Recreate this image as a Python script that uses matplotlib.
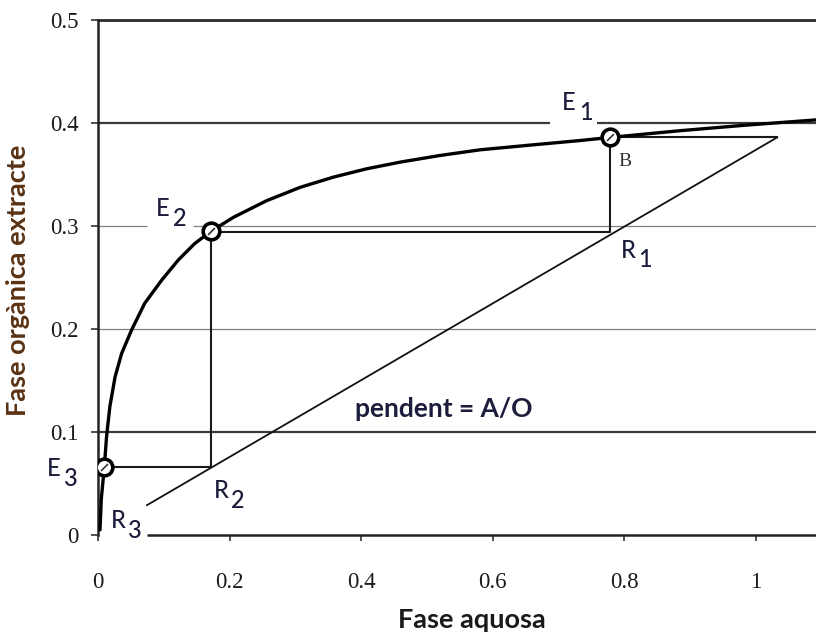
import numpy as np
import matplotlib.pyplot as plt

# equilibrium curve
curve_x = [0.003, 0.005, 0.0096, 0.013, 0.018, 0.026, 0.036, 0.051, 0.071, 0.097,
           0.122, 0.147, 0.172, 0.206, 0.256, 0.307, 0.358, 0.408, 0.459, 0.52,
           0.581, 0.656, 0.733, 0.778, 0.884, 0.986, 1.091]
curve_y = [0.005, 0.035, 0.066, 0.0955, 0.1246, 0.1537, 0.1764, 0.199, 0.225, 0.2476,
           0.267, 0.283, 0.295, 0.3085, 0.3245, 0.3375, 0.3475, 0.3555, 0.362, 0.3685,
           0.374, 0.3785, 0.383, 0.386, 0.3925, 0.398, 0.403]

# operating line (pendent = A/O)
op_x = [0.0745, 1.032]
op_y = [0.029, 0.386]

# stage construction
stair_x = [1.032, 0.778, 0.778, 0.172, 0.172, 0.0096]
stair_y = [0.386, 0.386, 0.294, 0.294, 0.066, 0.066]

e_names = ['1', '2', '3']
e_x = [0.778, 0.172, 0.0096]
e_y = [0.386, 0.295, 0.066]
r_names = ['1', '2', '3']

xticks = [0, 0.2, 0.4, 0.6, 0.8, 1.0]
xtick_labels = ['0', '0.2', '0.4', '0.6', '0.8', '1']
yticks = [0, 0.1, 0.2, 0.3, 0.4, 0.5]
ytick_labels = ['0', '0.1', '0.2', '0.3', '0.4', '0.5']

fig = plt.figure(figsize=(8.16, 6.35), dpi=100)
ax = fig.add_axes([98/816, 1 - 535/635, 1 - 98/816, 515/635])
ax.set_xlim(0, 1.091)
ax.set_ylim(0, 0.5)

# horizontal reference lines (with gaps for the labels)
ax.hlines(0.4, 0, 0.687, color='#3a3a3a', lw=1.6)
ax.hlines(0.4, 0.758, 1.091, color='#3a3a3a', lw=1.6)
ax.hlines(0.3, 0, 0.074, color='#808080', lw=0.9)
ax.hlines(0.3, 0.144, 1.091, color='#808080', lw=0.9)
ax.hlines(0.2, 0, 1.091, color='#808080', lw=0.9)
ax.hlines(0.1, 0, 1.091, color='#3a3a3a', lw=1.6)
ax.hlines(0.0, 0.0745, 1.091, color='#222222', lw=1.8, clip_on=False)

for side in ['right', 'bottom']:
    ax.spines[side].set_visible(False)
ax.spines['left'].set_linewidth(1.8)
ax.spines['left'].set_color('#222222')
ax.spines['top'].set_linewidth(2.0)
ax.spines['top'].set_color('#2a2a2a')

ax.plot(op_x, op_y, color='#111111', lw=1.3)
ax.plot(stair_x, stair_y, color='#1a1a1a', lw=1.5)
ax.plot(curve_x, curve_y, color='black', lw=2.4, solid_capstyle='round',
        solid_joinstyle='round', zorder=4)

ax.plot(e_x, e_y, 'o', ms=12, mfc='white', mec='black', mew=2.6, zorder=5)
ax.plot(e_x, e_y, marker=(2, 0, -45), ls='none', ms=7, mec='#333333', mew=1.2, zorder=6)

ax.set_xticks(xticks)
ax.set_xticklabels(xtick_labels)
ax.set_yticks(yticks)
ax.set_yticklabels(ytick_labels)
ax.tick_params(axis='x', direction='out', length=4, width=1.2, pad=23, color='#333333')
ax.tick_params(axis='y', direction='out', length=5, width=1.2, pad=9, color='#333333')
for lab in ax.get_xticklabels() + ax.get_yticklabels():
    lab.set_fontfamily('Liberation Serif')
    lab.set_fontsize(16.5)
    lab.set_color('#1a1a1a')


def sub_label(px, py, main, sub, color='#1c1c3c'):
    # main letter + lowered subscript, positions in pixels from top-left
    fig.text(px / 816, 1 - py / 635, main, family='Lato', fontsize=17,
             fontweight='medium', color=color, ha='center', va='center')
    fig.text((px + 17) / 816, 1 - (py + 10) / 635, sub, family='Lato', fontsize=17,
             fontweight='medium', color=color, ha='center', va='center')


sub_label(569, 102, 'E', e_names[0])
sub_label(163, 208, 'E', e_names[1])
sub_label(54, 469, 'E', e_names[2])
sub_label(628, 250, 'R', r_names[0])
sub_label(221, 490, 'R', r_names[1])
sub_label(118, 520, 'R', r_names[2])

fig.text(625 / 816, 1 - 161 / 635, 'B', family='Liberation Serif', fontsize=14,
         color='#333333', ha='center', va='center')
fig.text(444 / 816, 1 - 409 / 635, 'pendent = A/O', family='Lato', fontweight='bold',
         fontsize=19, color='#1c1c3c', ha='center', va='center')

fig.text(472 / 816, 1 - 620 / 635, 'Fase aquosa', family='Lato', fontweight='bold',
         fontsize=19.5, color='#1a1a1a', ha='center', va='center')
fig.text(18 / 816, 1 - 280 / 635, 'Fase orgànica extracte', family='Lato',
         fontweight='bold', fontsize=19.5, color='#5a3214', rotation=90,
         ha='center', va='center')

fig.savefig('out.png', dpi=100)
